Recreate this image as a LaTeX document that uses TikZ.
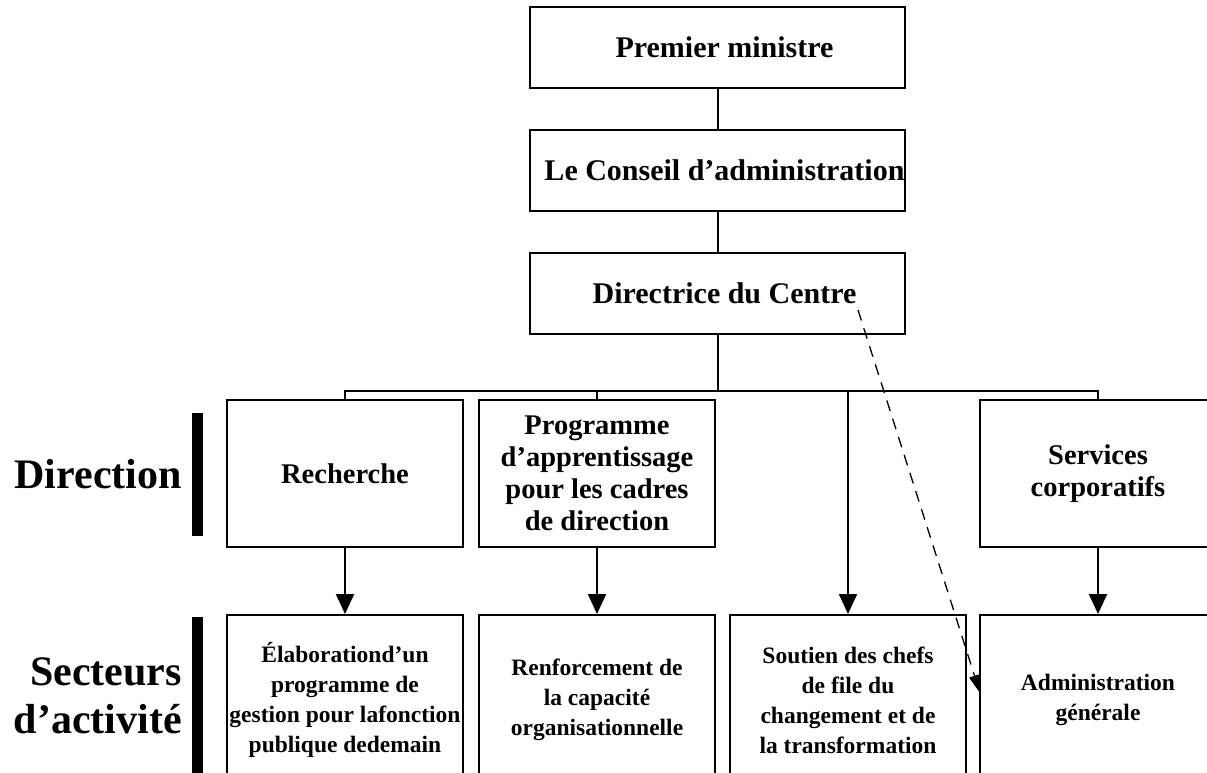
\documentclass[tikz,border=0pt]{standalone}
\usepackage{fontspec}
\setmainfont{Liberation Serif}
\usetikzlibrary{arrows.meta}
\begin{document}
\begin{tikzpicture}[
  x=1pt, y=1pt,
  topbox/.style={rectangle, draw, line width=2pt, minimum width=375pt, minimum height=81pt, inner xsep=0pt, font=\fontsize{30}{32}\selectfont\bfseries, execute at begin node=\hspace*{14pt}},
  midbox/.style={rectangle, draw, line width=2pt, minimum width=236pt, minimum height=147pt, align=center, font=\fontsize{28.5}{32}\selectfont\bfseries},
  lowbox/.style={rectangle, draw, line width=2pt, minimum width=236pt, minimum height=170pt, inner xsep=1pt, align=center, font=\fontsize{23.5}{30}\selectfont\bfseries},
  rowlabel/.style={align=right, inner sep=0pt, font=\fontsize{42}{48}\selectfont\bfseries},
  rowbar/.style={rectangle, fill=black, minimum width=11pt, inner sep=0pt},
  link/.style={line width=2pt},
  arrow/.style={line width=2pt, -{Triangle[width=18pt,length=20pt]}},
  node distance=123pt
]
\useasboundingbox (0,0) rectangle (1207,-773);

\node[topbox] (pm) at (717.5,-47.5) {Premier ministre};
\node[topbox, below of=pm] (ca) {Le Conseil d’administration};
\node[topbox, below of=ca] (dir) {Directrice du Centre};

\node[midbox] (rech) at (345,-473.5) {Recherche};
\node[midbox, right of=rech, node distance=252pt] (prog) {Programme\\d’apprentissage\\pour les cadres\\de direction};
\node[midbox, right of=prog, node distance=501pt] (serv) {Services\\corporatifs};

\node[lowbox] (elab) at (345,-700) {Élaborationd’un\\programme de\\gestion pour lafonction\\publique dedemain};
\node[lowbox, right of=elab, node distance=252pt] (renf) {Renforcement de\\la capacité\\organisationnelle};
\node[lowbox, right of=renf, node distance=251pt] (sout) {Soutien des chefs\\de file du\\changement et de\\la transformation};
\node[lowbox, right of=sout, node distance=250pt] (admin) {Administration\\générale};

\node[rowbar, minimum height=123pt] (dirbar) at (197.5,-474.5) {};
\node[rowbar, minimum height=170pt] (secbar) at (197.5,-702) {};
\node[rowlabel, anchor=base east] (dirlabel) at (182,-488) {Direction};
\node[rowlabel, anchor=base east] (seclabel) at (182,-733) {Secteurs\\d’activité};

\coordinate (bus) at (717.5,-391);
\coordinate (dashfrom) at (858,-310);
\coordinate (dashto) at (980,-693);

\draw[link] (pm) -- (ca);
\draw[link] (ca) -- (dir);
\draw[link] (dir.south) -- (bus);
\draw[link] (rech.north) -- (rech.north |- bus) -- (serv.north |- bus) -- (serv.north);
\draw[link] (prog.north) -- (prog.north |- bus);
\draw[arrow] (sout.north |- bus) -- (sout.north);
\draw[arrow] (rech) -- (elab);
\draw[arrow] (prog) -- (renf);
\draw[arrow] (serv) -- (admin);
\draw[line width=1.3pt, dash pattern=on 11pt off 8pt, -{Triangle[width=11pt,length=18pt]}] (dashfrom) -- (dashto);
\end{tikzpicture}
\end{document}
